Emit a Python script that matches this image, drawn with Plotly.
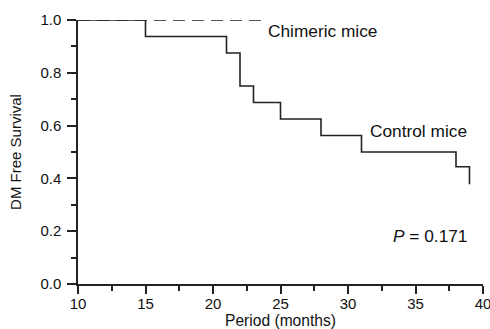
import plotly.graph_objects as go

# Kaplan-Meier data (months, survival)
chimeric_t = [10, 23.7]
chimeric_s = [1.0, 1.0]

control_t = [10, 15, 21, 22, 23, 25, 28, 31, 38, 39]
control_s = [1.0, 0.9375, 0.875, 0.75, 0.6875, 0.625, 0.5625, 0.5, 0.444, 0.378]

x_ticks = [10, 15, 20, 25, 30, 35, 40]
y_ticks = [0.0, 0.2, 0.4, 0.6, 0.8, 1.0]

FONT = "Liberation Sans, Arial, sans-serif"

fig = go.Figure()
fig.add_trace(go.Scatter(x=chimeric_t, y=chimeric_s, mode="lines",
                         line=dict(color="#222", width=1.6, dash="12px,7px"),
                         showlegend=False, cliponaxis=False))
fig.add_trace(go.Scatter(x=control_t, y=control_s, mode="lines",
                         line=dict(color="#222", width=1.6, shape="hv"),
                         showlegend=False, cliponaxis=False))

fig.add_annotation(x=23.9, y=0.958, xref="x", yref="y", text="Chimeric mice",
                   showarrow=False, xanchor="left", yanchor="middle",
                   font=dict(family=FONT, size=17.3, color="#111"))
fig.add_annotation(x=31.5, y=0.58, xref="x", yref="y", text="Control mice",
                   showarrow=False, xanchor="left", yanchor="middle",
                   font=dict(family=FONT, size=17.3, color="#111"))
fig.add_annotation(x=38.95, y=0.18, xref="x", yref="y", text="<i>P</i> = 0.171",
                   showarrow=False, xanchor="right", yanchor="middle",
                   font=dict(family=FONT, size=17.3, color="#111"))

fig.update_layout(
    width=490, height=329,
    margin=dict(l=78, r=7, t=20, b=45, autoexpand=False),
    paper_bgcolor="white", plot_bgcolor="white",
    font=dict(family=FONT, color="#111"),
    xaxis=dict(range=[10, 40], tickvals=x_ticks, ticktext=[str(v) for v in x_ticks],
               showgrid=False, zeroline=False, showline=True, linecolor="#222",
               linewidth=1.5, ticks="outside", ticklen=8, tickwidth=1.5, tickcolor="#222",
               tickfont=dict(size=15, family=FONT, color="#111"),
               ticklabeloverflow="allow", ticklabelstandoff=-3,
               minor=dict(dtick=2.5, tick0=10, ticks="outside", ticklen=5, tickwidth=1.5, tickcolor="#222"),
               title=dict(text="Period (months)", font=dict(size=15.6, family=FONT, color="#111"), standoff=3)),
    yaxis=dict(range=[0, 1], tickvals=y_ticks, ticktext=[f"{v:.1f}" for v in y_ticks],
               showgrid=False, zeroline=False, showline=True, linecolor="#222",
               linewidth=1.5, ticks="outside", ticklen=9, tickwidth=1.5, tickcolor="#222",
               tickfont=dict(size=15, family=FONT, color="#111"),
               ticklabeloverflow="allow", ticklabelstandoff=3,
               minor=dict(dtick=0.1, tick0=0, ticks="outside", ticklen=5, tickwidth=1.5, tickcolor="#222"),
               title=dict(text="DM Free Survival", font=dict(size=15, family=FONT, color="#111"), standoff=15)),
)

fig.write_html("out.html", config={"displayModeBar": False},
               post_script="document.body.style.margin='0px';document.body.style.overflow='hidden';")
